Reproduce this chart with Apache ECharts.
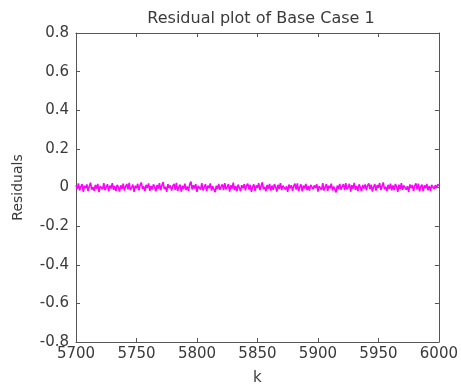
<!DOCTYPE html>
<html>
<head>
<meta charset="utf-8">
<script src="https://cdn.jsdelivr.net/npm/echarts@6/dist/echarts.min.js"></script>
<style>
html, body { margin: 0; padding: 0; background: #fff; }
#chart { width: 461px; height: 391px; }
</style>
</head>
<body>
<div id="chart"></div>
<script>
// 数据
var kStart = 5700;
var residuals = [
  0.012,-0.008,0.021,-0.015,0.004,0.018,-0.022,0.009,-0.003,0.016,-0.019,0.007,0.025,-0.011,0.002,-0.017,0.013,-0.006,0.019,-0.024,
  0.006,0.015,-0.009,0.022,-0.014,0.001,0.017,-0.020,0.010,-0.005,0.023,-0.012,0.008,-0.018,0.014,0.003,-0.021,0.011,-0.007,0.020,
  -0.016,0.005,0.018,-0.010,0.024,-0.013,0.000,0.015,-0.023,0.009,-0.004,0.019,-0.015,0.012,0.026,-0.008,0.006,-0.019,0.014,-0.002,
  0.021,-0.017,0.008,-0.011,0.016,0.003,-0.020,0.013,-0.006,0.022,-0.014,0.010,0.028,-0.009,0.004,-0.022,0.017,-0.003,0.011,-0.016,
  0.007,0.019,-0.012,0.024,-0.018,0.002,0.015,-0.021,0.009,-0.007,0.020,-0.013,0.005,-0.017,0.016,0.031,-0.010,0.012,-0.005,0.018,
  -0.023,0.008,0.014,-0.011,0.022,-0.015,0.001,0.017,-0.019,0.010,-0.003,0.021,-0.016,0.006,0.013,-0.024,0.009,-0.008,0.019,-0.012,
  0.004,0.016,-0.014,0.023,-0.009,0.002,0.018,-0.021,0.011,-0.006,0.025,-0.013,0.007,-0.018,0.015,0.000,-0.020,0.012,-0.004,0.017,
  -0.015,0.009,0.020,-0.010,0.014,-0.022,0.005,0.016,-0.017,0.011,-0.002,0.022,-0.014,0.008,0.027,-0.009,0.003,-0.019,0.013,-0.006,
  0.019,-0.016,0.010,-0.012,0.017,0.004,-0.021,0.014,-0.007,0.023,-0.013,0.009,0.018,-0.010,0.006,-0.023,0.015,-0.004,0.012,-0.017,
  0.008,0.020,-0.011,0.021,-0.019,0.003,0.016,-0.020,0.010,-0.005,0.019,-0.014,0.006,-0.016,0.014,0.024,-0.009,0.011,-0.003,0.017,
  -0.021,0.007,0.015,-0.012,0.023,-0.016,0.002,0.018,-0.018,0.009,-0.004,0.020,-0.015,0.005,0.012,-0.025,0.010,-0.007,0.018,-0.011,
  0.005,0.017,-0.013,0.022,-0.010,0.001,0.019,-0.022,0.012,-0.006,0.024,-0.012,0.008,-0.019,0.016,0.002,-0.019,0.013,-0.005,0.016,
  -0.014,0.010,0.021,-0.009,0.015,-0.021,0.004,0.017,-0.016,0.012,-0.001,0.023,-0.013,0.007,0.026,-0.010,0.004,-0.018,0.014,-0.007,
  0.020,-0.015,0.011,-0.013,0.018,0.005,-0.022,0.015,-0.008,0.022,-0.012,0.010,0.017,-0.011,0.007,-0.024,0.016,-0.003,0.013,-0.018,
  0.009,0.021,-0.010,0.020,-0.020,0.004,0.015,-0.019,0.011,-0.004,0.018,-0.015,0.007,-0.017,0.013,0.023,-0.008,0.012,-0.002,0.016,
  0.010
];
var xTicks = [5700, 5750, 5800, 5850, 5900, 5950, 6000];
var yTicks = [-0.8, -0.6, -0.4, -0.2, 0, 0.2, 0.4, 0.6, 0.8];

var points = residuals.map(function (v, i) { return [kStart + i, v]; });

var myChart = echarts.init(document.getElementById('chart'));
var font = 'DejaVu Sans, Verdana, sans-serif';
var axisColor = '#555';
var textColor = '#3a3a3a';

function yFmt(v) {
  if (Math.abs(v) < 1e-9) return '0';
  return v.toFixed(1);
}
function xFmt(v) {
  return String(Math.round(v));
}

var option = {
  animation: false,
  backgroundColor: '#fff',
  title: {
    text: 'Residual plot of Base Case 1',
    left: 256, top: 6, textAlign: 'center',
    textStyle: { fontFamily: font, fontSize: 16, fontWeight: 'normal', color: textColor }
  },
  grid: { left: 76, right: 18, top: 33, bottom: 49 },
  xAxis: [{
    type: 'value', min: xTicks[0], max: xTicks[xTicks.length - 1], interval: 50,
    name: 'k', nameLocation: 'middle', nameGap: 29,
    nameTextStyle: { fontFamily: font, fontSize: 15, color: textColor },
    axisLine: { show: true, onZero: false, lineStyle: { color: axisColor, width: 1 } },
    axisTick: { inside: true, length: 4, lineStyle: { color: axisColor } },
    axisLabel: { fontFamily: font, fontSize: 15, color: textColor, margin: 5, formatter: xFmt },
    splitLine: { show: false }
  }, {
    type: 'value', position: 'top', min: xTicks[0], max: xTicks[xTicks.length - 1], interval: 50,
    axisLine: { show: true, onZero: false, lineStyle: { color: axisColor, width: 1 } },
    axisTick: { inside: true, length: 4, lineStyle: { color: axisColor } },
    axisLabel: { show: false }, splitLine: { show: false }
  }],
  yAxis: [{
    type: 'value', min: yTicks[0], max: yTicks[yTicks.length - 1], interval: 0.2,
    name: 'Residuals', nameLocation: 'middle', nameGap: 51, nameRotate: 90,
    nameTextStyle: { fontFamily: font, fontSize: 14, color: textColor },
    axisLine: { show: true, onZero: false, lineStyle: { color: axisColor, width: 1 } },
    axisTick: { show: true, inside: true, length: 4, lineStyle: { color: axisColor } },
    axisLabel: { fontFamily: font, fontSize: 15, color: textColor, margin: 7, formatter: yFmt },
    splitLine: { show: false }
  }, {
    type: 'value', position: 'right', min: yTicks[0], max: yTicks[yTicks.length - 1], interval: 0.2,
    axisLine: { show: true, onZero: false, lineStyle: { color: axisColor, width: 1 } },
    axisTick: { show: true, inside: true, length: 4, lineStyle: { color: axisColor } },
    axisLabel: { show: false }, splitLine: { show: false }
  }],
  series: [{
    name: 'Residuals',
    type: 'line',
    data: points,
    showSymbol: false,
    lineStyle: { color: '#ff00ff', width: 1.6 },
    itemStyle: { color: '#ff00ff' }
  }]
};

myChart.setOption(option);
</script>
</body>
</html>
